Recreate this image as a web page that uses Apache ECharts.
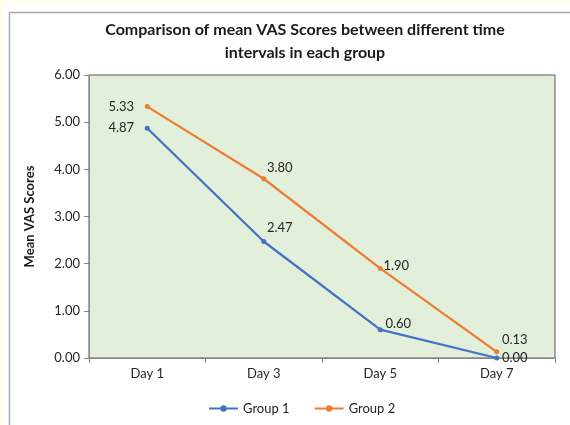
<!DOCTYPE html>
<html><head><meta charset="utf-8">
<script src="https://cdn.jsdelivr.net/npm/echarts@6/dist/echarts.min.js"></script>
<style>html,body{margin:0;padding:0;background:#fff;}#c{width:570px;height:425px;}</style>
</head><body><div id="c"></div>
<script>
const categories = ['Day 1', 'Day 3', 'Day 5', 'Day 7'];
const group1 = [4.87, 2.47, 0.60, 0.00];
const group2 = [5.33, 3.80, 1.90, 0.13];
const seriesNames = ['Group 1', 'Group 2'];
const titleText = 'Comparison of mean VAS Scores between different time\nintervals in each group';
const yAxisName = 'Mean VAS Scores';

// label placement styles (not data)
const g1LabelOffsets = [[-26, 0], [16, -14], [18, -6], [18, 0]];
const g2LabelOffsets = [[-26, 0], [16, -11], [16, -3], [18, -12]];

function buildData(vals, offs) {
  return vals.map((v, i) => ({
    value: v,
    label: { show: true, position: 'inside', offset: offs[i], formatter: p => p.value.toFixed(2) }
  }));
}

const font = 'Lato, "Open Sans", sans-serif';
const txt = '#262626';
const chart = echarts.init(document.getElementById('c'), null, { renderer: 'canvas' });
chart.setOption({
  animation: false,
  backgroundColor: '#ffffff',
  graphic: [
    { type: 'rect', z: -10, shape: { x: 0, y: 0, width: 570, height: 425 }, style: { fill: '#FFFDE8' } },
    { type: 'rect', z: -9, shape: { x: 3, y: 3, width: 570, height: 425 }, style: { fill: '#ffffff' } },
    { type: 'rect', z: -8, shape: { x: 9.5, y: 12.5, width: 580, height: 430 }, style: { fill: 'none', stroke: '#A6A6A6', lineWidth: 1.5 } }
  ],
  title: {
    text: titleText,
    left: 300, top: 13, textAlign: 'center',
    textStyle: { fontFamily: font, fontWeight: 'bold', fontSize: 16, color: '#1a1a1a', lineHeight: 23 }
  },
  grid: {
    left: 89, top: 75, right: 15, bottom: 67,
    show: true, backgroundColor: '#E2EFDA', borderColor: '#595959', borderWidth: 1
  },
  legend: {
    bottom: 5, left: 203,
    itemWidth: 29, itemHeight: 8, itemGap: 24,
    textStyle: { fontFamily: font, fontSize: 13, color: txt },
    data: seriesNames
  },
  xAxis: {
    type: 'category', data: categories, boundaryGap: true,
    axisLine: { lineStyle: { color: '#868686' } },
    axisTick: { show: true, length: 5, lineStyle: { color: '#868686' } },
    axisLabel: { fontFamily: font, fontSize: 13, color: txt, margin: 9 }
  },
  yAxis: {
    type: 'value', min: 0, max: 6, interval: 1,
    name: yAxisName, nameLocation: 'middle', nameGap: 53, nameRotate: 90,
    nameTextStyle: { fontFamily: font, fontWeight: 'bold', fontSize: 13, color: '#1a1a1a' },
    axisLine: { show: true, lineStyle: { color: '#868686' } },
    axisTick: { show: true, length: 5, lineStyle: { color: '#868686' } },
    splitLine: { show: false },
    axisLabel: { fontFamily: font, fontSize: 13, color: txt, margin: 9, formatter: v => v.toFixed(2) }
  },
  series: [
    {
      name: seriesNames[0], type: 'line', data: buildData(group1, g1LabelOffsets),
      symbol: 'circle', symbolSize: 5,
      itemStyle: { color: '#4472C4' }, lineStyle: { width: 2.25, color: '#4472C4' },
      label: { fontFamily: font, fontSize: 13, color: txt }
    },
    {
      name: seriesNames[1], type: 'line', data: buildData(group2, g2LabelOffsets),
      symbol: 'circle', symbolSize: 5,
      itemStyle: { color: '#ED7D31' }, lineStyle: { width: 2.25, color: '#ED7D31' },
      label: { fontFamily: font, fontSize: 13, color: txt }
    }
  ]
});
</script></body></html>
